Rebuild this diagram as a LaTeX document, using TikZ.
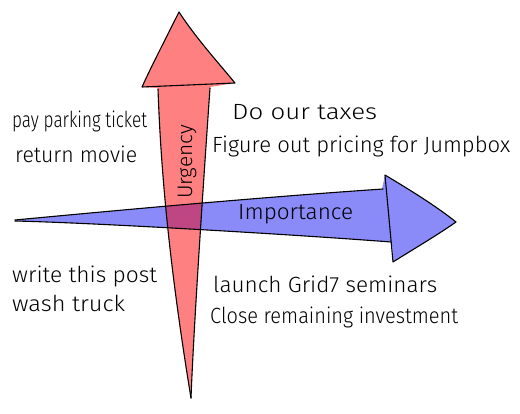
\documentclass[tikz,border=0pt]{standalone}
\usepackage{fontspec}
\setmainfont{Fira Sans}[UprightFont=* Light]
\usepackage{graphicx}
\definecolor{urgred}{HTML}{FF8080}
\definecolor{impblue}{HTML}{8A8AF8}
\definecolor{overlapc}{HTML}{BE4682}
\newcommand\hw[2]{\resizebox{#1pt}{\height}{#2}}
\tikzset{
  note/.style={anchor=base west, inner sep=0pt, font=\fontsize{22}{26}\selectfont},
  outline/.style={draw=black, line width=1.1pt, line join=round, line cap=round},
}
\def\redpath{(179,12) .. controls (166,38) and (152,65) .. (142,87) -- (158,88)
  .. controls (161,175) and (170,270) .. (191,398)
  .. controls (194,320) and (205,160) .. (210,87) -- (235,83)
  .. controls (216,60) and (196,38) .. cycle}
\def\bluepath{(15,220) .. controls (100,212) and (250,198) .. (382,189) -- (385,175)
  .. controls (410,190) and (436,206) .. (456,222)
  .. controls (436,236) and (412,250) .. (393,262) -- (392,242)
  .. controls (300,235) and (100,223) .. (15,221) -- cycle}
\begin{document}
\begin{tikzpicture}[x=1pt,y=-1pt]
\useasboundingbox (0,0) rectangle (520,414);
\fill[white] (0,0) rectangle (520,414);
% fills
\fill[urgred] \redpath;
\fill[impblue] \bluepath;
\begin{scope}
  \clip \redpath;
  \fill[overlapc] \bluepath;
\end{scope}
% red arrow outlines
\draw[outline] (179,12) .. controls (166,38) and (152,65) .. (142,87) -- (235,83)
  .. controls (216,60) and (196,38) .. cycle;
\draw[outline] (158,89) .. controls (161,175) and (170,270) .. (191,398);
\draw[outline] (210,88) .. controls (205,160) and (194,320) .. (191,398);
% blue arrow outlines
\draw[outline] (385,175) .. controls (410,190) and (436,206) .. (456,222)
  .. controls (436,236) and (412,250) .. (393,262) -- cycle;
\draw[outline] (15,220) .. controls (100,212) and (250,198) .. (383,189);
\draw[outline] (15,221) .. controls (100,223) and (300,235) .. (391,242);
% axis labels
\node[inner sep=0pt, rotate=90, font=\fontsize{21}{24}\selectfont] (urg) at (187,162) {\hw{74}{Urgency}};
\node[note] (imp) at (238,220) {\hw{115}{Importance}};
% quadrant texts
\node[note] (t1) at (12,128) {\hw{135}{pay parking ticket}};
\node[note] (t2) at (15,163) {\hw{122}{return movie}};
\node[note] (t3) at (232,120) {\hw{145}{Do our taxes}};
\node[note] (t4) at (212,153) {\hw{298}{Figure out pricing for Jumpbox}};
\node[note] (t5) at (12,283) {\hw{145}{write this post}};
\node[note] (t6) at (12,312) {\hw{113}{wash truck}};
\node[note] (t7) at (213,293) {\hw{224}{launch Grid7 seminars}};
\node[note] (t8) at (210,324) {\hw{248}{Close remaining investment}};
\end{tikzpicture}
\end{document}
